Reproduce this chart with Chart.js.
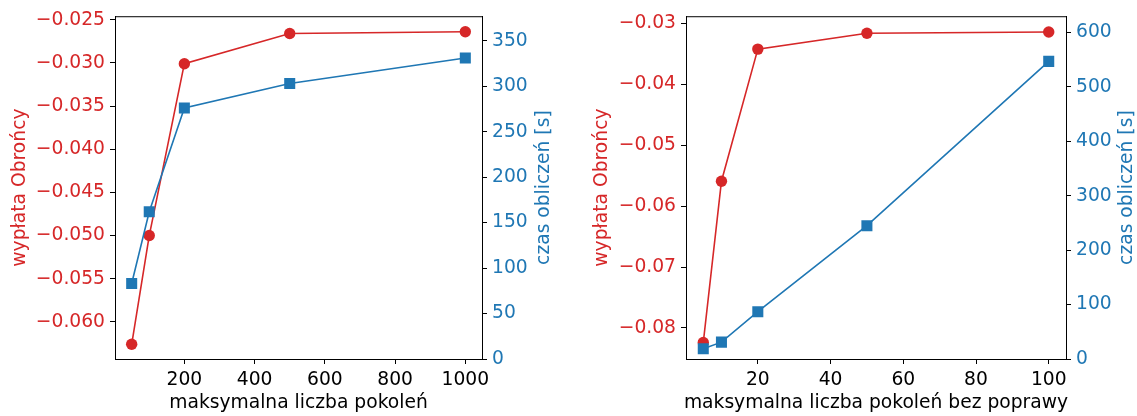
<!DOCTYPE html>
<html>
<head>
<meta charset="utf-8">
<script src="https://cdn.jsdelivr.net/npm/chart.js@4"></script>
<style>
  html, body { margin: 0; padding: 0; background: #fff; }
  #wrap { position: relative; width: 1137px; height: 416px; }
  .panel { position: absolute; top: 0; height: 416px; }
  #p1 { left: 0; width: 568px; }
  #p2 { left: 568px; width: 569px; }
</style>
</head>
<body>
<div id="wrap">
  <div class="panel" id="p1"><canvas id="c1" width="568" height="416"></canvas></div>
  <div class="panel" id="p2"><canvas id="c2" width="569" height="416"></canvas></div>
</div>
<script>
// lewy wykres: maksymalna liczba pokoleń
const pokolenia = [50, 100, 200, 500, 1000];
const wyplataPok = [-0.0626, -0.0500, -0.0301, -0.0266, -0.0264];
const czasPok = [83, 162, 276, 303, 331];

// prawy wykres: maksymalna liczba pokoleń bez poprawy
const bezPoprawy = [5, 10, 20, 50, 100];
const wyplataBez = [-0.0824, -0.0559, -0.0342, -0.0316, -0.0314];
const czasBez = [19, 31, 87, 245, 547];

// podziałki osi
const xTicksPok = [200, 400, 600, 800, 1000];
const yTicksPok = [-0.060, -0.055, -0.050, -0.045, -0.040, -0.035, -0.030, -0.025];
const y2TicksPok = [0, 50, 100, 150, 200, 250, 300, 350];
const xTicksBez = [20, 40, 60, 80, 100];
const yTicksBez = [-0.08, -0.07, -0.06, -0.05, -0.04, -0.03];
const y2TicksBez = [0, 100, 200, 300, 400, 500, 600];

const CZERWONY = '#d62728';
const NIEBIESKI = '#1f77b4';
const FS = 18.7;
const FONT = 'DejaVu Sans';

Chart.defaults.font.family = FONT;
Chart.defaults.font.size = FS;

const minus = (v, d) => v.toFixed(d).replace('-', '\u2212');

// górna ramka i podpisy osi
const opisy = {
  id: 'opisy',
  afterDraw(chart, args, o) {
    const { ctx, chartArea: a } = chart;
    ctx.save();
    ctx.strokeStyle = '#000';
    ctx.lineWidth = 1;
    ctx.beginPath();
    ctx.moveTo(a.left, a.top + 0.5);
    ctx.lineTo(a.right, a.top + 0.5);
    ctx.stroke();

    ctx.font = FS + 'px "' + FONT + '"';
    ctx.textAlign = 'center';
    ctx.textBaseline = 'middle';
    const cy = (a.top + a.bottom) / 2;

    ctx.fillStyle = '#000';
    ctx.fillText(o.x, (a.left + a.right) / 2, a.bottom + 44);

    ctx.translate(a.left - o.lewy, cy);
    ctx.rotate(-Math.PI / 2);
    ctx.fillStyle = CZERWONY;
    ctx.fillText('wypłata Obrońcy', 0, 0);
    ctx.restore();

    ctx.save();
    ctx.font = FS + 'px "' + FONT + '"';
    ctx.textAlign = 'center';
    ctx.textBaseline = 'middle';
    ctx.translate(a.right + o.prawy, cy);
    ctx.rotate(-Math.PI / 2);
    ctx.fillStyle = NIEBIESKI;
    ctx.fillText('czas obliczeń [s]', 0, 0);
    ctx.restore();
  }
};

function os(color, extra) {
  return Object.assign({
    grid: { drawOnChartArea: false, drawTicks: true, tickLength: 5, tickColor: '#000', tickWidth: 1 },
    border: { display: true, color: '#000', width: 1 },
    ticks: { color: color, padding: 5, font: { size: FS }, callback: v => String(v) }
  }, extra);
}

function wykres(id, xs, wyplata, czas, cfg) {
  const pts = ys => xs.map((x, i) => ({ x: x, y: ys[i] }));
  return new Chart(document.getElementById(id), {
    type: 'line',
    data: {
      datasets: [
        {
          label: 'czas obliczeń [s]',
          data: pts(czas),
          yAxisID: 'y2',
          borderColor: NIEBIESKI,
          backgroundColor: NIEBIESKI,
          borderWidth: 1.6,
          pointStyle: 'rect',
          pointRadius: 7.8,
          pointBorderWidth: 0,
          pointBackgroundColor: NIEBIESKI,
          order: 0
        },
        {
          label: 'wypłata Obrońcy',
          data: pts(wyplata),
          yAxisID: 'y',
          borderColor: CZERWONY,
          backgroundColor: CZERWONY,
          borderWidth: 1.6,
          pointStyle: 'circle',
          pointRadius: 5.7,
          pointBorderWidth: 0,
          pointBackgroundColor: CZERWONY,
          order: 1
        }
      ]
    },
    options: {
      responsive: false,
      animation: false,
      layout: { padding: { top: cfg.top, left: 0, right: 0, bottom: 0 } },
      plugins: {
        legend: { display: false },
        tooltip: { enabled: false },
        opisy: { x: cfg.xTitle, lewy: cfg.lewy, prawy: cfg.prawy }
      },
      scales: {
        x: os('#000', {
          type: 'linear',
          min: cfg.xMin, max: cfg.xMax,
          afterBuildTicks: s => { s.ticks = cfg.xTicks.map(v => ({ value: v })); },
          afterFit: s => { s.height = 416 - cfg.bottom; }
        }),
        y: os(CZERWONY, {
          position: 'left',
          min: cfg.yMin, max: cfg.yMax,
          afterBuildTicks: s => { s.ticks = cfg.yTicks.map(v => ({ value: v })); },
          afterFit: s => { s.width = cfg.left; },
          ticks: { color: CZERWONY, padding: 5, font: { size: FS }, callback: v => minus(v, cfg.dec) }
        }),
        y2: os(NIEBIESKI, {
          position: 'right',
          min: 0, max: cfg.y2Max,
          afterBuildTicks: s => { s.ticks = cfg.y2Ticks.map(v => ({ value: v })); },
          afterFit: s => { s.width = cfg.right; }
        })
      }
    },
    plugins: [opisy]
  });
}

wykres('c1', pokolenia, wyplataPok, czasPok, {
  xTitle: 'maksymalna liczba pokoleń',
  xMin: 2.5, xMax: 1047.5, xTicks: xTicksPok,
  yMin: -0.0643, yMax: -0.0246, yTicks: yTicksPok, dec: 3,
  y2Max: 377, y2Ticks: y2TicksPok,
  top: 14, bottom: 359, left: 115, right: 568 - 482,
  lewy: 95, prawy: 62
});

wykres('c2', bezPoprawy, wyplataBez, czasBez, {
  xTitle: 'maksymalna liczba pokoleń bez poprawy',
  xMin: 0.25, xMax: 104.75, xTicks: xTicksBez,
  yMin: -0.0851, yMax: -0.0288, yTicks: yTicksBez, dec: 2,
  y2Max: 630, y2Ticks: y2TicksBez,
  top: 10, bottom: 359, left: 686 - 568, right: 569 - (1066 - 568),
  lewy: 84, prawy: 61
});
</script>
</body>
</html>
